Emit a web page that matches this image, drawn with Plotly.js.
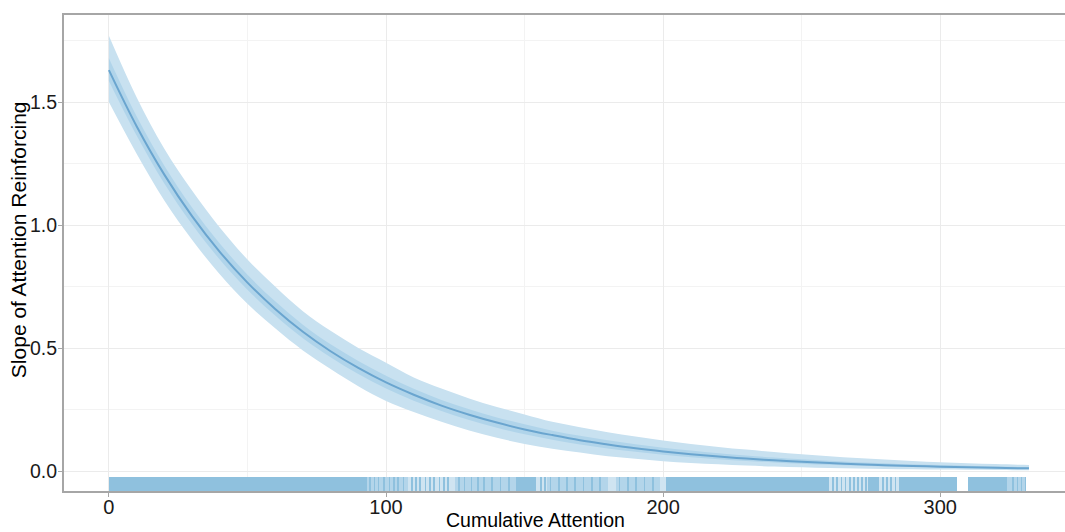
<!DOCTYPE html>
<html>
<head>
<meta charset="utf-8">
<script src="https://cdn.plot.ly/plotly-3.0.1.min.js"></script>
<style>html,body{margin:0;padding:0;background:#fff;}#chart{width:1065px;height:532px;}</style>
</head>
<body>
<div id="chart"></div>
<script>
// Cumulative attention grid (x) and fitted slope with intervals
const attention = [0,10,20,30,40,50,60,70,80,90,100,110,120,130,140,150,160,170,180,190,200,210,220,230,240,250,260,270,280,290,300,310,320,330,332];
const slopeMean = [1.63,1.402,1.205,1.036,0.891,0.766,0.659,0.566,0.487,0.419,0.360,0.310,0.266,0.229,0.197,0.169,0.146,0.125,0.108,0.0925,0.0795,0.0684,0.0588,0.0506,0.0435,0.0374,0.0322,0.0277,0.0238,0.0204,0.0176,0.0151,0.0130,0.0112,0.0109];
const outerLow  = [1.50,1.29,1.10,0.94,0.80,0.68,0.58,0.49,0.415,0.345,0.285,0.24,0.20,0.165,0.135,0.11,0.09,0.075,0.06,0.05,0.04,0.033,0.027,0.022,0.018,0.015,0.012,0.010,0.008,0.007,0.006,0.005,0.004,0.003,0.003];
const outerHigh = [1.77,1.52,1.31,1.14,0.99,0.86,0.75,0.65,0.57,0.50,0.44,0.38,0.335,0.295,0.26,0.23,0.20,0.178,0.158,0.14,0.124,0.11,0.098,0.087,0.077,0.068,0.06,0.053,0.047,0.041,0.036,0.032,0.028,0.025,0.024];
const innerLow  = [1.586,1.364,1.169,1.003,0.860,0.737,0.632,0.540,0.463,0.394,0.335,0.286,0.244,0.207,0.176,0.149,0.127,0.108,0.092,0.078,0.066,0.056,0.048,0.041,0.035,0.030,0.025,0.022,0.018,0.016,0.014,0.012,0.010,0.0084,0.008];
const innerHigh = [1.678,1.442,1.241,1.071,0.925,0.798,0.690,0.595,0.515,0.447,0.387,0.334,0.289,0.251,0.218,0.190,0.164,0.143,0.125,0.109,0.095,0.083,0.072,0.063,0.055,0.048,0.042,0.036,0.032,0.027,0.024,0.021,0.018,0.016,0.015];

const rugBaseStart  = [0,310];
const rugBaseEnd    = [306,331];
const rugMidStart   = [93,125,158,183,324];
const rugMidEnd     = [108,147,180,199,331];
const rugDenseStart = [0,147,201,274,285,310];
const rugDenseEnd   = [93,154,260,278,306,324];
const rugTicks = [94,95.5,97,99,101,102.5,104,106,109,110.5,112,114,115.5,117,119,120.5,122,126,128,130.5,133,135,138,141,144,155.5,157,159,162,165,168,171,174,177,184,187,190,193,196,261,262.5,264,265.5,267,268.5,270,271.5,273,279,280.5,282,283.5,326,327.5,329,330.5];

// Axis ticks
const xTickVals = [0,100,200,300];
const xTickText = ['0','100','200','300'];
const yTickVals = [0,0.5,1,1.5];
const yTickText = ['0.0','0.5','1.0','1.5'];
const xTitle = 'Cumulative Attention';
const yTitle = 'Slope of Attention Reinforcing';

const rugBottom = -0.0813, rugTop = -0.0244;

function rugBars(starts, ends, color) {
  return {
    type: 'bar',
    x: starts.map((s, i) => (s + ends[i]) / 2),
    y: starts.map(() => rugTop - rugBottom),
    base: rugBottom,
    width: starts.map((s, i) => ends[i] - s),
    marker: {color: color, line: {width: 0}},
    hoverinfo: 'skip', showlegend: false
  };
}

const clear = {width: 0, color: 'rgba(0,0,0,0)', shape: 'spline'};
const traces = [
  rugBars(rugBaseStart, rugBaseEnd, '#cfe4f1'),
  rugBars(rugMidStart, rugMidEnd, '#b3d5ea'),
  rugBars(rugDenseStart, rugDenseEnd, '#8fc1de'),
  rugBars(rugTicks, rugTicks.map(t => t + 0.6), '#8fc1de'),
  {x: attention, y: outerLow, mode: 'lines', line: clear, hoverinfo: 'skip', showlegend: false},
  {x: attention, y: outerHigh, mode: 'lines', fill: 'tonexty', fillcolor: '#c8e1f0', line: clear, hoverinfo: 'skip', showlegend: false},
  {x: attention, y: innerLow, mode: 'lines', line: clear, hoverinfo: 'skip', showlegend: false},
  {x: attention, y: innerHigh, mode: 'lines', fill: 'tonexty', fillcolor: '#b0d4ea', line: clear, hoverinfo: 'skip', showlegend: false},
  {x: attention, y: slopeMean, mode: 'lines', line: {width: 2, color: '#6aa5cf', shape: 'spline'}, showlegend: false}
];

const fam = 'Liberation Sans, Arial, Helvetica, sans-serif';

const layout = {
  width: 1065, height: 532,
  margin: {l: 64, r: 0, t: 15, b: 41},
  paper_bgcolor: '#ffffff', plot_bgcolor: '#ffffff',
  font: {family: fam, size: 20, color: '#1a1a1a'},
  showlegend: false,
  barmode: 'overlay', bargap: 0,
  xaxis: {
    range: [-16.2, 345], tickvals: xTickVals, ticktext: xTickText,
    showgrid: true, gridcolor: '#ebebeb', gridwidth: 1,
    minor: {dtick: 50, tick0: 0, showgrid: true, gridcolor: '#f3f3f3', gridwidth: 1},
    zeroline: false, showline: true, linecolor: '#a6a6a6', linewidth: 2, mirror: true,
    ticks: 'outside', ticklen: 4, tickcolor: '#a6a6a6', tickwidth: 1,
    ticklabelstandoff: -7,
    tickfont: {family: fam, size: 20, color: '#1a1a1a'},
    automargin: false
  },
  yaxis: {
    range: [-0.0813, 1.854], tickvals: yTickVals, ticktext: yTickText,
    showgrid: true, gridcolor: '#ebebeb', gridwidth: 1,
    minor: {dtick: 0.25, tick0: 0, showgrid: true, gridcolor: '#f3f3f3', gridwidth: 1},
    zeroline: false, showline: true, linecolor: '#a6a6a6', linewidth: 2, mirror: false,
    ticks: 'outside', ticklen: 4, tickcolor: '#a6a6a6', tickwidth: 1,
    ticklabelstandoff: -3,
    tickfont: {family: fam, size: 19.5, color: '#1a1a1a'},
    automargin: false
  },
  annotations: [
    {text: xTitle, xref: 'paper', yref: 'paper', x: 0.4715, y: -0.0609, xanchor: 'center', yanchor: 'middle',
     showarrow: false, font: {family: fam, size: 19.5, color: '#000'}},
    {text: yTitle, xref: 'paper', yref: 'paper', x: -0.046, y: 0.529, xanchor: 'center', yanchor: 'middle',
     textangle: -90, showarrow: false, font: {family: fam, size: 21, color: '#000'}}
  ]
};

Plotly.newPlot('chart', traces, layout, {displayModeBar: false, staticPlot: true});
</script>
</body>
</html>
